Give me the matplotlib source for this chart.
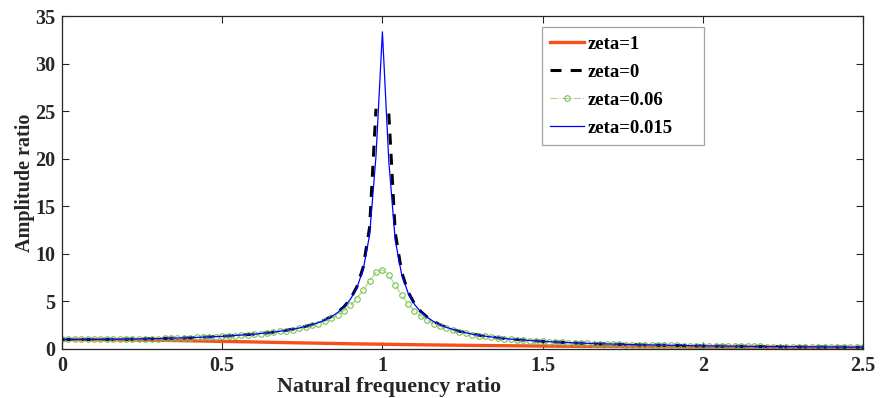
import numpy as np
import matplotlib
matplotlib.use("Agg")
import matplotlib.pyplot as plt

# frequency response curves, amplitude ratio vs natural frequency ratio
r_z1 = np.round(np.arange(0, 2.51, 0.1), 2)
amp_z1 = [1.00, 0.99, 0.96, 0.92, 0.86, 0.80, 0.74, 0.67, 0.61, 0.55, 0.50,
          0.45, 0.41, 0.37, 0.34, 0.31, 0.28, 0.26, 0.24, 0.22, 0.20, 0.18,
          0.17, 0.16, 0.15, 0.14]

r_peak = [0, 0.1, 0.2, 0.3, 0.4, 0.5, 0.6, 0.65, 0.7, 0.74, 0.78, 0.80, 0.82,
          0.84, 0.86, 0.88, 0.90, 0.92, 0.94, 0.96, 0.98, 1.00, 1.02, 1.04,
          1.06, 1.08, 1.10, 1.12, 1.14, 1.16, 1.18, 1.20, 1.24, 1.28, 1.32,
          1.36, 1.40, 1.5, 1.6, 1.7, 1.8, 2.0, 2.2, 2.5]
amp_z0 = [1.00, 1.01, 1.04, 1.10, 1.19, 1.33, 1.56, 1.73, 1.96, 2.21, 2.55,
          2.78, 3.05, 3.40, 3.84, 4.43, 5.26, 6.51, 8.59, 12.76, 25.25, np.nan,
          24.75, 12.25, 8.09, 6.01, 4.76, 3.93, 3.34, 2.89, 2.55, 2.27, 1.86,
          1.57, 1.35, 1.18, 1.04, 0.80, 0.64, 0.53, 0.45, 0.33, 0.26, 0.19]
amp_z015 = [1.00, 1.01, 1.04, 1.10, 1.19, 1.33, 1.56, 1.73, 1.96, 2.21, 2.55,
            2.77, 3.04, 3.38, 3.82, 4.40, 5.21, 6.41, 8.35, 11.97, 20.28, 33.33,
            19.73, 11.45, 7.84, 5.90, 4.70, 3.90, 3.32, 2.88, 2.54, 2.27, 1.86,
            1.57, 1.35, 1.18, 1.04, 0.80, 0.64, 0.53, 0.45, 0.33, 0.26, 0.19]

r_z06 = np.round(np.arange(0, 2.501, 0.02), 2)
amp_z06 = [1.00, 1.00, 1.00, 1.00, 1.01, 1.01, 1.01, 1.02, 1.03, 1.03,
           1.04, 1.05, 1.06, 1.07, 1.08, 1.10, 1.11, 1.13, 1.15, 1.17,
           1.19, 1.21, 1.24, 1.27, 1.30, 1.33, 1.37, 1.41, 1.45, 1.50,
           1.55, 1.61, 1.68, 1.75, 1.84, 1.93, 2.04, 2.17, 2.31, 2.48,
           2.68, 2.92, 3.21, 3.57, 4.01, 4.58, 5.29, 6.17, 7.18, 8.06,
           8.33, 7.76, 6.71, 5.64, 4.74, 4.03, 3.48, 3.04, 2.68, 2.40,
           2.16, 1.96, 1.79, 1.65, 1.52, 1.41, 1.32, 1.23, 1.16, 1.09,
           1.03, 0.97, 0.92, 0.87, 0.83, 0.79, 0.76, 0.72, 0.69, 0.66,
           0.64, 0.61, 0.59, 0.57, 0.55, 0.53, 0.51, 0.49, 0.47, 0.46,
           0.44, 0.43, 0.42, 0.40, 0.39, 0.38, 0.37, 0.36, 0.35, 0.34,
           0.33, 0.32, 0.32, 0.31, 0.30, 0.29, 0.29, 0.28, 0.27, 0.27,
           0.26, 0.25, 0.25, 0.24, 0.24, 0.23, 0.23, 0.22, 0.22, 0.21,
           0.21, 0.21, 0.20, 0.20, 0.19, 0.19]

x_ticks = [0, 0.5, 1, 1.5, 2, 2.5]
y_ticks = [0, 5, 10, 15, 20, 25, 30, 35]

plt.rcParams['font.family'] = ['Liberation Serif', 'DejaVu Serif']
plt.rcParams['font.weight'] = 'bold'

fig = plt.figure(figsize=(8.82, 3.98), dpi=100)
ax = fig.add_axes([62 / 882, 49 / 398, 801 / 882, 333 / 398])

ax.plot(r_z1, amp_z1, color='#F4511A', lw=2.4, label='zeta=1')
ax.plot(r_peak, amp_z0, color='black', lw=2.2, dashes=(3.6, 3.0), label='zeta=0')
ax.plot(r_z06, amp_z06, color='#A2D886', lw=0.8, linestyle='-.',
        marker='o', markersize=4.0, markerfacecolor='none',
        markeredgecolor='#79C052', markeredgewidth=0.8, label='zeta=0.06')
ax.plot(r_peak, amp_z015, color='#0000FF', lw=0.9, label='zeta=0.015')

ax.set_xlim(0, 2.5)
ax.set_ylim(0, 35)
ax.set_xticks(x_ticks)
ax.set_xticklabels(['0', '0.5', '1', '1.5', '2', '2.5'])
ax.set_yticks(y_ticks)
ax.tick_params(direction='in', length=5, width=0.8, top=True, right=True,
               labelsize=14.5, pad=5, colors='#262626')
for sp in ax.spines.values():
    sp.set_color('#262626')
    sp.set_linewidth(0.9)

ax.set_ylabel('Amplitude ratio', fontsize=14.5, fontweight='bold', color='#262626',
              labelpad=0)
fig.text(389 / 882, 1 / 398, 'Natural frequency ratio', ha='center', va='bottom',
         fontsize=15.8, fontweight='bold', color='#262626')

# legend box spans a fixed width, entries packed to the left
leg = ax.legend(loc='upper left',
                bbox_to_anchor=(480 / 801, 0, 162 / 801, 1 - 11 / 333),
                mode='expand', borderaxespad=0, frameon=True, fancybox=False,
                handlelength=1.8, labelspacing=0.58, borderpad=0.45,
                handletextpad=0.2, prop={'weight': 'bold', 'size': 13.5})
leg.get_frame().set_edgecolor('#8c8c8c')
leg.get_frame().set_linewidth(0.9)

fig.savefig('out.png', dpi=100)
